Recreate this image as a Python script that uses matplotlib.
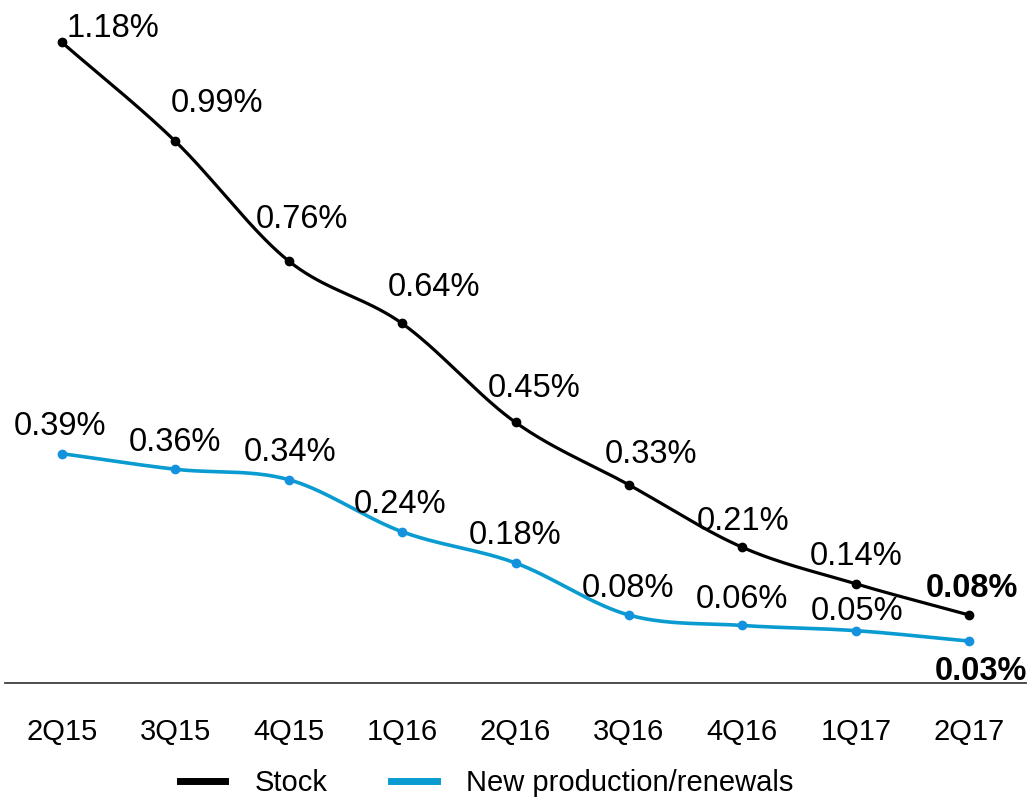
import numpy as np
import matplotlib
matplotlib.use("Agg")
import matplotlib.pyplot as plt

plt.rcParams['font.family'] = ['Liberation Sans', 'DejaVu Sans']

quarters = ["2Q15", "3Q15", "4Q15", "1Q16", "2Q16", "3Q16", "4Q16", "1Q17", "2Q17"]
stock = [1.18, 0.99, 0.76, 0.64, 0.45, 0.33, 0.21, 0.14, 0.08]
new_prod = [0.39, 0.36, 0.34, 0.24, 0.18, 0.08, 0.06, 0.05, 0.03]

# label offsets in pixels (dx, dy) relative to the point
stock_offsets = [(51, 14), (42, 38), (13, 41), (32, 36), (19, 34), (22, 30), (1, 26), (0, 27), (3, 27)]
new_offsets = [(-2, 27), (0, 27), (1, 27), (-2, 27), (0, 27), (-1, 27), (0, 26), (1, 19), (12, -30)]

BLACK = "#000000"
BLUE = "#0A9BD0"
BLUE_MK = "#1592DE"


def smooth(xs, ys, n=40, t=0.5):
    xs = np.asarray(xs, float)
    ys = np.asarray(ys, float)
    P = np.column_stack([xs, ys])
    P = np.vstack([P[0] - (P[1] - P[0]), P, P[-1] + (P[-1] - P[-2])])
    out = []
    for i in range(1, len(P) - 2):
        p0, p1, p2, p3 = P[i - 1], P[i], P[i + 1], P[i + 2]
        m1 = (p2 - p0) * t
        m2 = (p3 - p1) * t
        s = np.linspace(0, 1, n)[:, None]
        h00 = 2 * s**3 - 3 * s**2 + 1
        h10 = s**3 - 2 * s**2 + s
        h01 = -2 * s**3 + 3 * s**2
        h11 = s**3 - s**2
        seg = h00 * p1 + h10 * m1 + h01 * p2 + h11 * m2
        out.append(seg if i == 1 else seg[1:])
    arr = np.vstack(out)
    return arr[:, 0], arr[:, 1]


W, H = 1033, 797
fig = plt.figure(figsize=(W / 100, H / 100), dpi=100)
left_px, right_px, top_px, bottom_px = 5, 1026, 5.5, 683
ax = fig.add_axes([left_px / W, 1 - bottom_px / H, (right_px - left_px) / W, (bottom_px - top_px) / H])

x = np.arange(len(quarters))
sx, sy = smooth(x, stock)
bx, by = smooth(x, new_prod)
ax.plot(sx, sy, color=BLACK, lw=2.3, solid_capstyle='round', zorder=3)
ax.plot(bx, by, color=BLUE, lw=2.6, solid_capstyle='round', zorder=3)
ax.plot(x, stock, 'o', color=BLACK, ms=6, zorder=4)
ax.plot(x, new_prod, 'o', color=BLUE_MK, ms=6, zorder=4)

# legend proxies
ax.plot([], [], color=BLACK, lw=5, label="Stock")
ax.plot([], [], color=BLUE, lw=5, label="New production/renewals")

for i, (v, (dx, dy)) in enumerate(zip(stock, stock_offsets)):
    bold = i == len(stock) - 1
    ax.annotate(f"{v:.2f}%", (x[i], v), xytext=(dx, dy), textcoords='offset pixels',
                ha='center', va='center', fontsize=23.5,
                fontweight='bold' if bold else 'normal', color='black', zorder=5)
for i, (v, (dx, dy)) in enumerate(zip(new_prod, new_offsets)):
    bold = i == len(new_prod) - 1
    ax.annotate(f"{v:.2f}%", (x[i], v), xytext=(dx, dy), textcoords='offset pixels',
                ha='center', va='center', fontsize=23.5,
                fontweight='bold' if bold else 'normal', color='black', zorder=5)

ax.set_xlim(-0.5, 8.5)
ax.set_ylim(-0.0505, 1.2505)
ax.set_xticks(x)
ax.set_xticklabels(quarters, fontsize=21)
ax.tick_params(axis='x', length=0, pad=25)
ax.set_yticks([])
for s in ['top', 'right', 'left']:
    ax.spines[s].set_visible(False)
ax.spines['bottom'].set_color('#404040')
ax.spines['bottom'].set_linewidth(1.3)
ax.patch.set_visible(False)

leg = fig.legend(loc='center', bbox_to_anchor=(486.5 / W, 1 - 783 / H), ncol=2, frameon=False,
                 fontsize=21, handlelength=1.55, handletextpad=1.0, columnspacing=2.2,
                 borderpad=0, borderaxespad=0)

fig.savefig("out.png", dpi=100)
